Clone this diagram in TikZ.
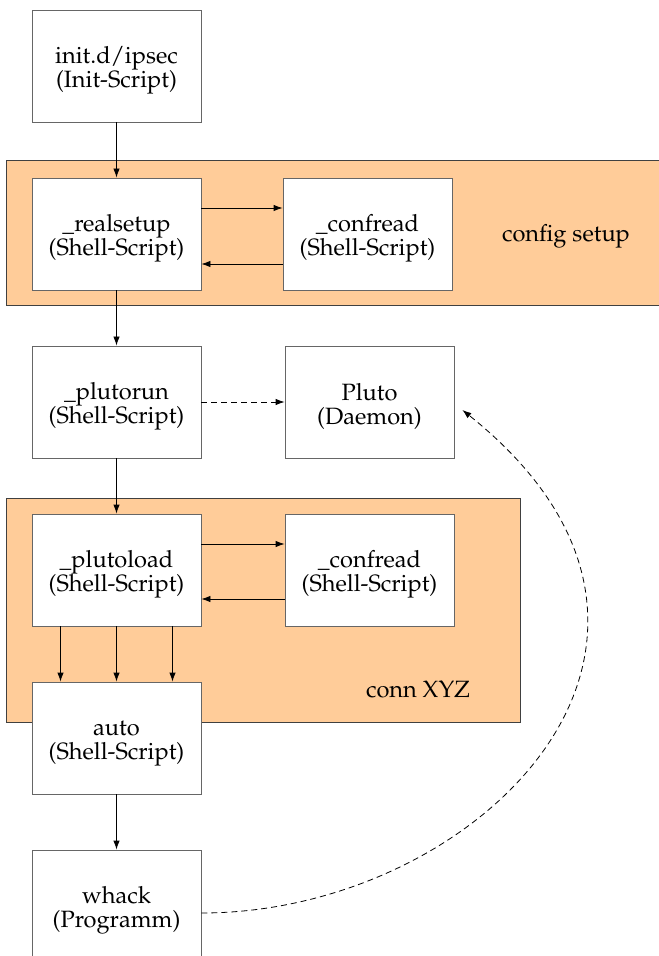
\documentclass[tikz,border=0pt]{standalone}
\usepackage[T1]{fontenc}
\usepackage{mathpazo}
\usepackage{xcolor}
\usetikzlibrary{arrows.meta, positioning}
\definecolor{bandfill}{HTML}{FFCC99}

\tikzset{
    prog/.style={draw=black!60, fill=white, minimum width=84.5pt, minimum height=56pt,
        inner sep=0pt, align=center, text height=25pt},
    band/.style={draw=black!75, fill=bandfill},
    flow/.style={-{Latex[length=4.5pt,width=3.2pt]}},
    spawn/.style={flow, dash pattern=on 3pt off 2pt},
}

\begin{document}
\begin{tikzpicture}[x=0.5pt,y=-0.5pt,font=\fontsize{11.8}{12}\selectfont]
    \useasboundingbox (0,0) rectangle (658,956);

    % hintergrund der sektionen
    \draw[band] (6,160) rectangle (666,305);
    \draw[band] (6,498) rectangle (520,722);
    \node at (566,236) {config setup};
    \node at (418,690) {conn XYZ};

    \node[prog] (init) at (116.5,66) {init.d/ipsec\\(Init-Script)};
    \node[prog] (realsetup) at (116.5,234) {\_realsetup\\(Shell-Script)};
    \node[prog] (confreadA) at (367.5,234) {\_confread\\(Shell-Script)};
    \node[prog] (plutorun) at (116.5,402) {\_plutorun\\(Shell-Script)};
    \node[prog] (pluto) at (369.5,402) {Pluto\\(Daemon)};
    \node[prog] (plutoload) at (116.5,570) {\_plutoload\\(Shell-Script)};
    \node[prog] (confreadB) at (369.5,570) {\_confread\\(Shell-Script)};
    \node[prog] (auto) at (116.5,738) {auto\\(Shell-Script)};
    \node[prog] (whack) at (116.5,906) {whack\\(Programm)};

    \draw[flow] (init) -- (realsetup);
    \draw[flow] ([yshift=13pt]realsetup.east) -- ([yshift=13pt]confreadA.west);
    \draw[flow] ([yshift=-15pt]confreadA.west) -- ([yshift=-15pt]realsetup.east);
    \draw[flow] (realsetup) -- (plutorun);
    \draw[spawn] (plutorun) -- (pluto);
    \draw[flow] (plutorun) -- (plutoload);
    \draw[flow] ([yshift=13pt]plutoload.east) -- ([yshift=13pt]confreadB.west);
    \draw[flow] ([yshift=-14.5pt]confreadB.west) -- ([yshift=-14.5pt]plutoload.east);
    \foreach \dx in {-28pt,0pt,28pt}
        \draw[flow] ([xshift=\dx]plutoload.south) -- ([xshift=\dx]auto.north);
    \draw[flow] (auto) -- (whack);
    \draw[spawn] ([yshift=-3.5pt]whack.east) .. controls (480,913) and (750,640)
        .. ([xshift=4pt,yshift=-4pt]pluto.east);
\end{tikzpicture}
\end{document}
